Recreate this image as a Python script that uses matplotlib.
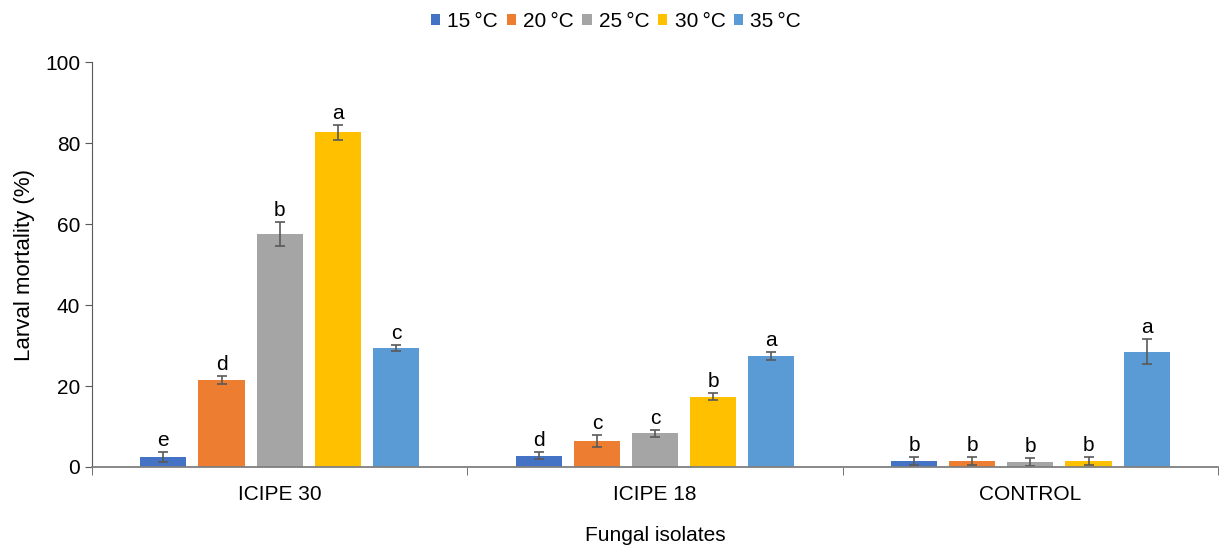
import numpy as np
import matplotlib.pyplot as plt

plt.rcParams['font.family'] = ['Liberation Sans', 'DejaVu Sans']

# data
isolates = ['ICIPE 30', 'ICIPE 18', 'CONTROL']
temps = ['15\u2009°C', '20\u2009°C', '25\u2009°C', '30\u2009°C', '35\u2009°C']
colors = ['#4472C4', '#ED7D31', '#A5A5A5', '#FFC000', '#5B9BD5']

mortality = [
    [2.5, 21.4, 57.6, 82.6, 29.4],   # 15 C .. 35 C for ICIPE 30
    [2.8, 6.4, 8.3, 17.4, 27.4],     # ICIPE 18
    [1.4, 1.4, 1.3, 1.4, 28.5],      # CONTROL
]
errors = [
    [1.2, 1.0, 3.0, 1.8, 0.8],
    [0.8, 1.4, 0.8, 0.9, 0.9],
    [1.0, 1.0, 1.0, 1.0, 3.0],
]
letters = [
    ['e', 'd', 'b', 'a', 'c'],
    ['d', 'c', 'c', 'b', 'a'],
    ['b', 'b', 'b', 'b', 'a'],
]

vals = np.array(mortality)
errs = np.array(errors)

fig = plt.figure(figsize=(12.32, 5.46), dpi=100)
ax = fig.add_axes([0.0747, 0.1447, 0.914, 0.7417])

x = np.arange(len(isolates))
step = 0.155
width = 0.123
for j, t in enumerate(temps):
    pos = x + (j - 2) * step
    ax.bar(pos, vals[:, j], width, color=colors[j], label=t,
           yerr=errs[:, j], capsize=3.5,
           error_kw=dict(ecolor='#595959', elinewidth=1.2, capthick=1.2))
    for i in range(len(isolates)):
        ax.text(pos[i], vals[i, j] + errs[i, j] + 0.5, letters[i][j],
                ha='center', va='bottom', fontsize=15)

ax.set_xlim(-0.5, 2.5)
ax.set_ylim(0, 100)
ax.set_yticks(range(0, 101, 20))
ax.tick_params(axis='y', labelsize=15, length=5, color='#595959')
ax.set_xticks(x)
ax.set_xticklabels(isolates, fontsize=15)
ax.tick_params(axis='x', length=0, pad=13)
# category boundary ticks
ax.set_xticks([-0.5, 0.5, 1.5, 2.5], minor=True)
ax.tick_params(axis='x', which='minor', length=6, color='#595959')

for s in ['top', 'right']:
    ax.spines[s].set_visible(False)
ax.spines['left'].set_color('#595959')
ax.spines['bottom'].set_color('#7f7f7f')
ax.spines['bottom'].set_linewidth(1.3)

ax.set_ylabel('Larval mortality (%)', fontsize=16, labelpad=7)
ax.set_xlabel('Fungal isolates', fontsize=15, labelpad=16)

fig.legend(loc='upper center', bbox_to_anchor=(0.5, 1.012), ncol=5, frameon=False,
           fontsize=15, handlelength=0.45, handleheight=0.45, handletextpad=0.35,
           columnspacing=0.4)

fig.savefig('out.png', dpi=100)
